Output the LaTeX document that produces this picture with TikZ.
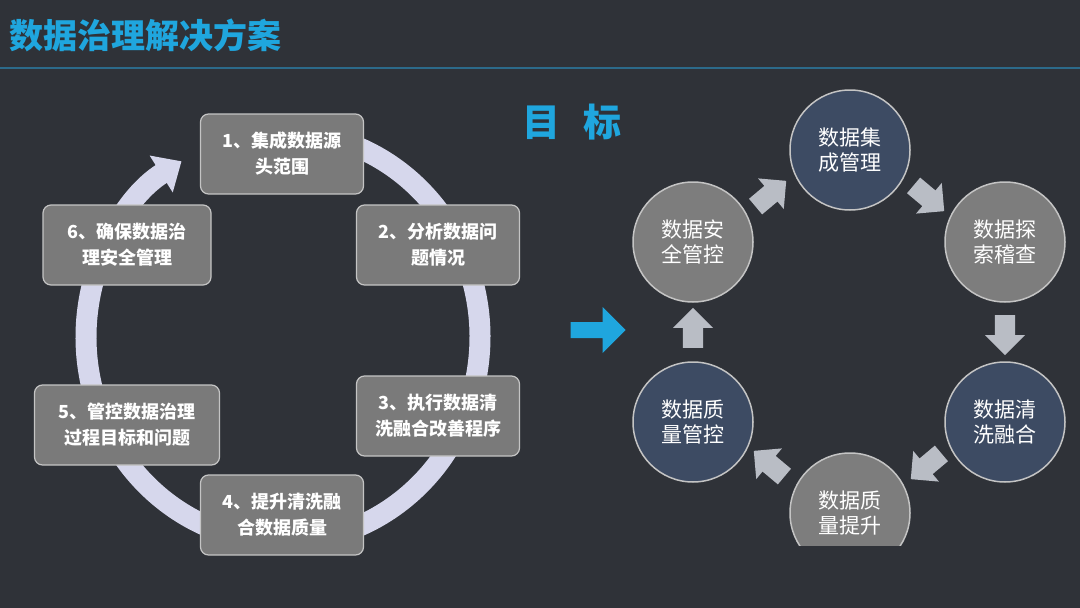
\documentclass[tikz,border=0pt]{standalone}
\usepackage{fontspec}
\setmainfont{Noto Sans CJK SC}
\usetikzlibrary{shapes.arrows,arrows.meta}
\definecolor{bg}{HTML}{2F3238}
\definecolor{cyanT}{HTML}{1FA6DE}
\definecolor{lineC}{HTML}{2C6A8A}
\definecolor{boxF}{HTML}{7A7A7A}
\definecolor{boxD}{HTML}{C4C4C4}
\definecolor{ringC}{HTML}{D6D7EC}
\definecolor{navy}{HTML}{3D4B63}
\definecolor{grayC}{HTML}{7D7D7D}
\definecolor{arrC}{HTML}{B9BDC5}
\tikzset{
 stepbox/.style={draw=boxD,line width=1.2pt,fill=boxF,rounded corners=8pt,minimum width=163pt,minimum height=80pt,text=white,font=\bfseries\fontsize{18}{26}\selectfont,align=center},
 goalc/.style={circle,draw=boxD,line width=1.5pt,minimum size=120pt,text=white,font=\fontsize{21}{25}\selectfont,align=center,inner sep=0pt},
 blk/.style={single arrow,fill=arrC,draw=none,minimum height=40pt,minimum width=40pt,single arrow head extend=5pt,inner sep=5pt}
}
\begin{document}
\begin{tikzpicture}[x=1pt,y=-1pt]
\fill[bg] (0,0) rectangle (1080,608);
\useasboundingbox (0,0) rectangle (1080,608);
\node[text=cyanT,font=\bfseries\fontsize{34}{38}\selectfont,anchor=west] (title) at (6,35) {数据治理解决方案};
\draw[lineC,line width=1.5pt] (0,68) -- (1080,68);
% ring
\draw[ringC,line width=21pt,-{Triangle[width=42pt,length=24pt]}] (283,337) ++(-86:197 and 205) arc[start angle=-446,end angle=-121,x radius=197,y radius=205];
% boxes
\node[stepbox] (b1) at (282,154) {1、集成数据源\\头范围};
\node[stepbox] (b2) at (438,245) {2、分析数据问\\题情况};
\node[stepbox] (b3) at (438,416) {3、执行数据清\\洗融合改善程序};
\node[stepbox] (b4) at (282,515) {4、提升清洗融\\合数据质量};
\node[stepbox,minimum width=185pt] (b5) at (127,425) {5、管控数据治理\\过程目标和问题};
\node[stepbox,minimum width=168pt] (b6) at (127,245) {6、确保数据治\\理安全管理};
% goal
\node[text=cyanT,font=\bfseries\fontsize{38}{40}\selectfont] (goal) at (572,122) {目\hspace{0.6em}标};
\node[single arrow,fill=cyanT,minimum height=55pt,minimum width=46pt,single arrow head extend=6pt,inner sep=3pt] (bigarr) at (594,330) {};
% circles
\node[goalc,fill=navy] (c1) at (850,150) {数据集\\成管理};
\node[goalc,fill=grayC] (c2) at (1005,242) {数据探\\索稽查};
\node[goalc,fill=navy] (c3) at (1005,422) {数据清\\洗融合};
\begin{scope}
\clip (700,400) rectangle (1000,545);
\node[goalc,fill=grayC] (c4) at (850,513) {数据质\\量提升};
\end{scope}
\node[goalc,fill=navy] (c5) at (693,422) {数据质\\量管控};
\node[goalc,fill=grayC] (c6) at (693,242) {数据安\\全管控};
% block arrows
\node[blk,rotate=40] (a1) at (767,197) {};
\node[blk,rotate=-40] (a2) at (925,195) {};
\node[blk,rotate=-90] (a3) at (1005,330) {};
\node[blk,rotate=-140] (a4) at (930,463) {};
\node[blk,rotate=140] (a5) at (773,467) {};
\node[blk,rotate=90] (a6) at (693,333) {};
\end{tikzpicture}
\end{document}
